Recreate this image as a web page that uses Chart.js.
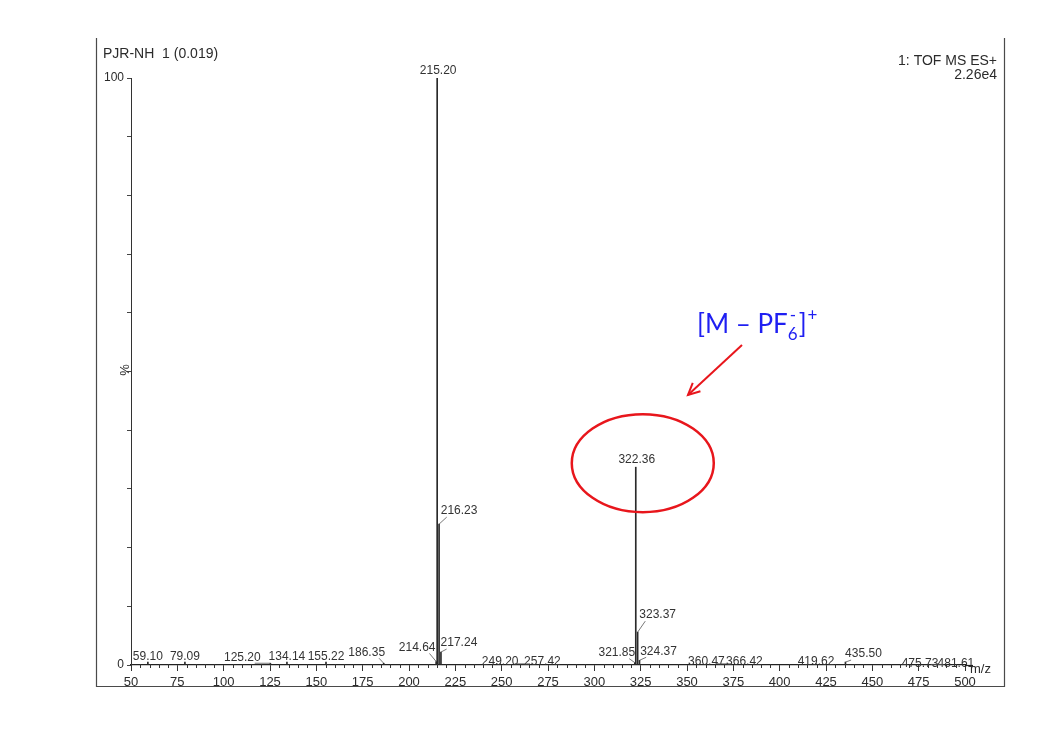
<!DOCTYPE html>
<html>
<head>
<meta charset="utf-8">
<title>PJR-NH 1 - TOF MS ES+</title>
<script src="https://cdn.jsdelivr.net/npm/chart.js@4.4.1/dist/chart.umd.min.js"></script>
<style>
  html, body { margin: 0; padding: 0; background: #fff; }
  canvas { display: block; }
</style>
</head>
<body>
<canvas id="ms" width="1054" height="742"></canvas>
<script>
// spectrum peaks: m/z and relative intensity (%)
const peakMz = [59.10, 79.09, 125.20, 134.14, 155.22, 186.35, 214.64, 215.20, 216.23, 217.24,
  249.20, 257.42, 321.85, 322.36, 323.37, 324.37, 360.47, 366.42, 419.62, 435.50, 475.73, 481.61];
const peakIntensity = [0.5, 0.5, 0.3, 0.5, 0.5, 0.3, 0.6, 100, 24, 2.2,
  0.2, 0.2, 0.4, 33.7, 5.6, 0.8, 0.2, 0.2, 0.2, 0.5, 0.1, 0.1];

const xRange = [50, 500];
const xMajorStep = 25;
const xMinorStep = 5;
const yRange = [0, 100];
const yTickLabels = [0, 100];

const sampleName = 'PJR-NH  1 (0.019)';
const scanInfo = ['1: TOF MS ES+', '2.26e4'];
const annotatedMz = 322.36;
const annotatedIntensity = 33.7;

// where each peak label sits relative to the stick top: [dx, dy, leader]
const labelLayout = {
  '125.20': [-28, -6, true],
  '186.35': [-17, -11, true],
  '214.64': [-19, -14, true],
  '215.20': [1, -7, false],
  '216.23': [20, -13, true],
  '217.24': [18, -9, true],
  '249.20': [0, -2, false],
  '257.42': [27, -2, true],
  '321.85': [-18, -10, true],
  '322.36': [1, -7, false],
  '323.37': [20, -17, true],
  '324.37': [19, -9, true],
  '360.47': [0, -2, false],
  '366.42': [27, -2, true],
  '419.62': [0, -2, false],
  '435.50': [18, -8, true],
  '475.73': [0, -1, false],
  '481.61': [25, -1, true]
};

const FONT = '"Liberation Sans", Arial, sans-serif';
const INK = '#2b2b2b';

const msDecor = {
  id: 'msDecor',
  afterDatasetsDraw(chart) {
    const ctx = chart.ctx;
    const xs = chart.scales.x, ys = chart.scales.y;
    ctx.save();
    ctx.font = '12px ' + FONT;
    ctx.fillStyle = '#333';
    ctx.strokeStyle = '#555';
    ctx.lineWidth = 0.8;
    ctx.textAlign = 'center';
    ctx.textBaseline = 'middle';
    peakMz.forEach((mz, i) => {
      const txt = mz.toFixed(2);
      const px = xs.getPixelForValue(mz);
      const py = ys.getPixelForValue(peakIntensity[i]);
      const lay = labelLayout[txt] || [0, -5, false];
      const tx = px + lay[0], ty = py + lay[1];
      ctx.fillText(txt, tx, ty);
      if (lay[2]) {
        const hw = ctx.measureText(txt).width / 2;
        const s = Math.sign(lay[0]);
        const ex = px + s * Math.max(4, Math.abs(lay[0]) - hw + 6);
        ctx.beginPath();
        ctx.moveTo(px, py);
        ctx.lineTo(ex, Math.min(ty + 6, py));
        ctx.stroke();
      }
    });
    ctx.restore();
  },
  afterDraw(chart) {
    const ctx = chart.ctx;
    const xs = chart.scales.x, ys = chart.scales.y;
    const area = chart.chartArea;
    ctx.save();

    // page frame
    ctx.strokeStyle = '#4a4a4a';
    ctx.lineWidth = 1.2;
    ctx.beginPath();
    ctx.moveTo(96.5, 38); ctx.lineTo(96.5, 686.5);
    ctx.lineTo(1004.5, 686.5); ctx.lineTo(1004.5, 38);
    ctx.stroke();

    // m/z axis runs a little past the last tick
    ctx.strokeStyle = '#222';
    ctx.beginPath();
    ctx.moveTo(area.right, area.bottom + 0.5);
    ctx.lineTo(area.right + 8, area.bottom + 0.5);
    ctx.stroke();

    // minor ticks on m/z axis
    ctx.strokeStyle = '#333';
    ctx.lineWidth = 1;
    for (let v = xRange[0]; v <= xRange[1]; v += xMinorStep) {
      if (v % xMajorStep === 0) continue;
      const x = Math.round(xs.getPixelForValue(v)) + 0.5;
      ctx.beginPath();
      ctx.moveTo(x, area.bottom - 1);
      ctx.lineTo(x, area.bottom + 3);
      ctx.stroke();
    }

    // header text
    ctx.fillStyle = INK;
    ctx.font = '14px ' + FONT;
    ctx.textBaseline = 'middle';
    ctx.textAlign = 'left';
    ctx.fillText(sampleName, 103, 54);
    ctx.textAlign = 'right';
    ctx.fillText(scanInfo[0], 997, 61);
    ctx.fillText(scanInfo[1], 997, 75);

    // axis captions
    ctx.font = '13px ' + FONT;
    ctx.textAlign = 'left';
    ctx.fillText('m/z', 970, 669);
    ctx.save();
    ctx.translate(125, 370);
    ctx.rotate(-Math.PI / 2);
    ctx.textAlign = 'center';
    ctx.fillText('%', 0, 0);
    ctx.restore();

    // highlighted molecular ion
    const cx = xs.getPixelForValue(annotatedMz) + 7;
    const cy = ys.getPixelForValue(annotatedIntensity) - 4;
    ctx.strokeStyle = '#e8161c';
    ctx.lineWidth = 2.5;
    ctx.beginPath();
    ctx.ellipse(cx, cy, 71, 49, 0, 0, Math.PI * 2);
    ctx.stroke();

    // arrow
    const ax0 = 742, ay0 = 345, ax1 = 688, ay1 = 395;
    ctx.lineWidth = 2;
    ctx.beginPath();
    ctx.moveTo(ax0, ay0); ctx.lineTo(ax1, ay1);
    ctx.stroke();
    const ang = Math.atan2(ay1 - ay0, ax1 - ax0);
    ctx.beginPath();
    ctx.moveTo(ax1 - 13 * Math.cos(ang - 0.45), ay1 - 13 * Math.sin(ang - 0.45));
    ctx.lineTo(ax1, ay1);
    ctx.lineTo(ax1 - 13 * Math.cos(ang + 0.45), ay1 - 13 * Math.sin(ang + 0.45));
    ctx.stroke();

    // [M – PF6-]+ label
    ctx.fillStyle = '#1f1ff2';
    ctx.textAlign = 'left';
    ctx.textBaseline = 'alphabetic';
    let x = 697;
    const base = 333;
    ctx.font = '26px Lato, "Open Sans", sans-serif';
    ctx.fillText('[M \u2013 PF', x, base);
    x += ctx.measureText('[M \u2013 PF').width;
    ctx.font = '17px Lato, "Open Sans", sans-serif';
    ctx.fillText('6', x, base + 7);
    ctx.fillText('-', x + 2, base - 12);
    x += ctx.measureText('6').width + 1;
    ctx.font = '26px Lato, "Open Sans", sans-serif';
    ctx.fillText(']', x, base);
    x += ctx.measureText(']').width + 1;
    ctx.font = '17px Lato, "Open Sans", sans-serif';
    ctx.fillText('+', x, base - 12);

    ctx.restore();
  }
};

new Chart(document.getElementById('ms'), {
  type: 'bar',
  data: {
    datasets: [{
      data: peakMz.map((m, i) => ({ x: m, y: peakIntensity[i] })),
      backgroundColor: '#2a2a2a',
      borderWidth: 0,
      barThickness: 1
    }]
  },
  options: {
    responsive: false,
    animation: false,
    devicePixelRatio: 1,
    layout: { padding: { left: 96, right: 89, top: 78, bottom: 47 } },
    plugins: { legend: { display: false }, tooltip: { enabled: false } },
    scales: {
      x: {
        type: 'linear',
        min: xRange[0],
        max: xRange[1],
        offset: false,
        afterFit: s => { s.height = 30; },
        border: { display: true, color: '#222', width: 1.2 },
        grid: { display: true, drawOnChartArea: false, offset: false, tickLength: 6, tickColor: '#333' },
        ticks: {
          stepSize: xMajorStep,
          autoSkip: false,
          maxRotation: 0,
          padding: 4,
          color: INK,
          font: { family: FONT, size: 13 }
        }
      },
      y: {
        min: yRange[0],
        max: yRange[1],
        afterFit: s => { s.width = 35; },
        border: { display: true, color: '#333', width: 1 },
        grid: { display: true, drawOnChartArea: false, tickLength: 4, tickColor: '#444' },
        ticks: {
          stepSize: 10,
          autoSkip: false,
          padding: 3,
          color: INK,
          font: { family: FONT, size: 12 },
          callback: v => yTickLabels.includes(v) ? String(v) : ''
        }
      }
    }
  },
  plugins: [msDecor]
});
</script>
</body>
</html>
